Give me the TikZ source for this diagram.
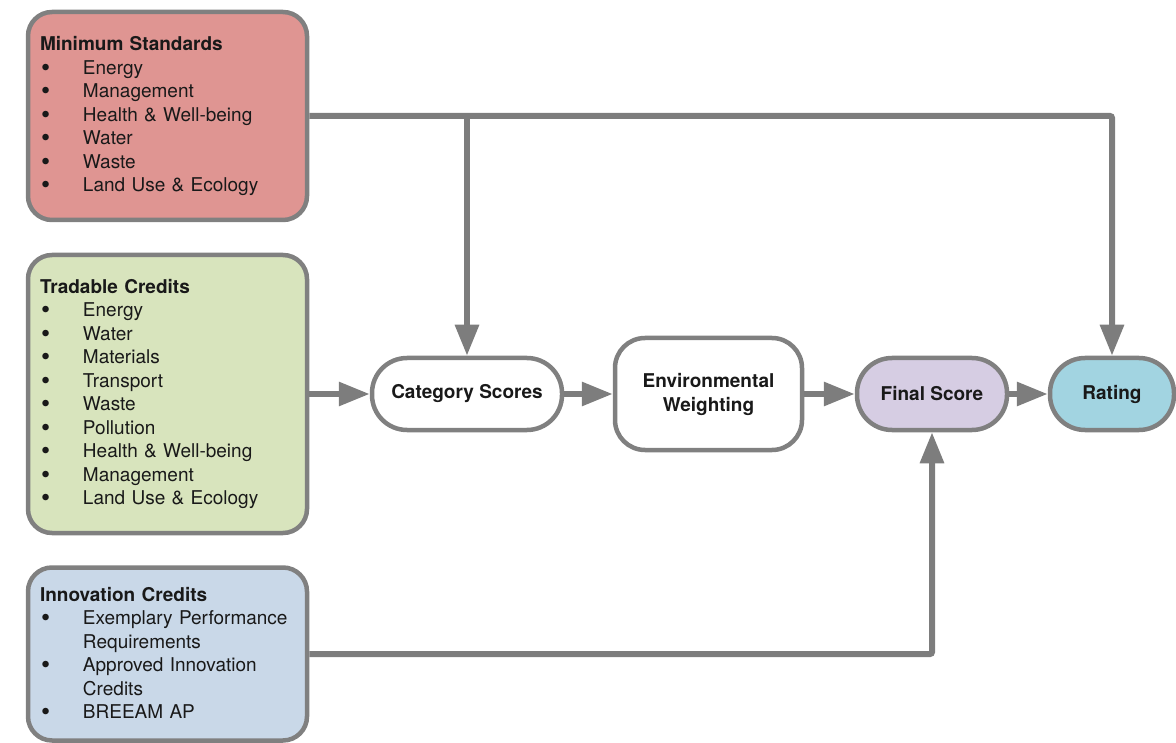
\documentclass[tikz,border=0pt]{standalone}
\usepackage{fontspec}
\setmainfont{TeX Gyre Heros}
\usetikzlibrary{arrows.meta}
\definecolor{bordergray}{RGB}{128,128,128}
\definecolor{linegray}{RGB}{125,125,125}
\definecolor{txt}{RGB}{25,25,25}
\definecolor{mspink}{RGB}{223,149,146}
\definecolor{tcgreen}{RGB}{216,228,189}
\definecolor{icblue}{RGB}{201,216,232}
\definecolor{fslav}{RGB}{214,205,227}
\definecolor{rtblue}{RGB}{162,212,225}
\newcommand{\bitem}[1]{\makebox[43pt][l]{\hspace{1pt}\raisebox{-2pt}{\fontsize{26}{26}\selectfont\textbullet}}#1}
\newcommand{\bcont}[1]{\hspace*{43pt}#1}
\tikzset{
  listbox/.style={draw=bordergray, line width=4.5pt, rounded corners=24pt,
    inner xsep=12pt, inner ysep=0pt, minimum width=279pt, text width=255pt,
    align=left, text=txt, font=\fontsize{19}{23.5}\selectfont},
  pill/.style={draw=bordergray, line width=4.5pt, rounded corners=35pt,
    minimum height=72pt, inner sep=0pt, align=center, text=txt,
    font=\fontsize{19}{24}\selectfont\bfseries},
  conn/.style={draw=linegray, line width=6pt,
    -{Triangle[length=31pt,width=23pt]}, shorten >=0pt}
}
\begin{document}
\begin{tikzpicture}[x=1pt,y=-1pt]
\useasboundingbox (0,0) rectangle (1176,743);
% left boxes
\node[listbox, fill=mspink, minimum height=208pt] (ms) at (167.5,116)
 {\textbf{Minimum Standards}\\
  \bitem{Energy}\\
  \bitem{Management}\\
  \bitem{Health \& Well-being}\\
  \bitem{Water}\\
  \bitem{Waste}\\
  \bitem{Land Use \& Ecology}};
\node[listbox, fill=tcgreen, minimum height=278pt] (tc) at (167.5,394)
 {\textbf{Tradable Credits}\\
  \bitem{Energy}\\
  \bitem{Water}\\
  \bitem{Materials}\\
  \bitem{Transport}\\
  \bitem{Waste}\\
  \bitem{Pollution}\\
  \bitem{Health \& Well-being}\\
  \bitem{Management}\\
  \bitem{Land Use \& Ecology}};
\node[listbox, fill=icblue, minimum height=173pt] (ic) at (167.5,654)
 {\textbf{Innovation Credits}\\
  \bitem{Exemplary Performance}\\
  \bcont{Requirements}\\
  \bitem{Approved Innovation}\\
  \bcont{Credits}\\
  \bitem{BREEAM AP}};
% flow nodes
\node[pill, fill=white, minimum width=190pt] (cat) at (467,394) {Category Scores};
\node[pill, fill=white, minimum width=187pt, minimum height=112pt, rounded corners=30pt] (env) at (708.5,394) {Environmental\\Weighting};
\node[pill, fill=fslav, minimum width=150pt] (fs) at (932,394) {Final Score};
\node[pill, fill=rtblue, minimum width=124pt] (rt) at (1112,394) {Rating};
% connectors
\coordinate (br) at (cat.north |- ms.east);
\draw[conn] (tc.east) -- (cat.west);
\draw[conn] (cat.east) -- (env.west);
\draw[conn] (env.east) -- (fs.west);
\draw[conn] (fs.east) -- (rt.west);
\draw[conn, rounded corners=2pt] (ms.east) -| (rt.north);
\draw[conn] (br) -- (cat.north);
\draw[conn, rounded corners=2pt] (ic.east) -| (fs.south);
\end{tikzpicture}
\end{document}
